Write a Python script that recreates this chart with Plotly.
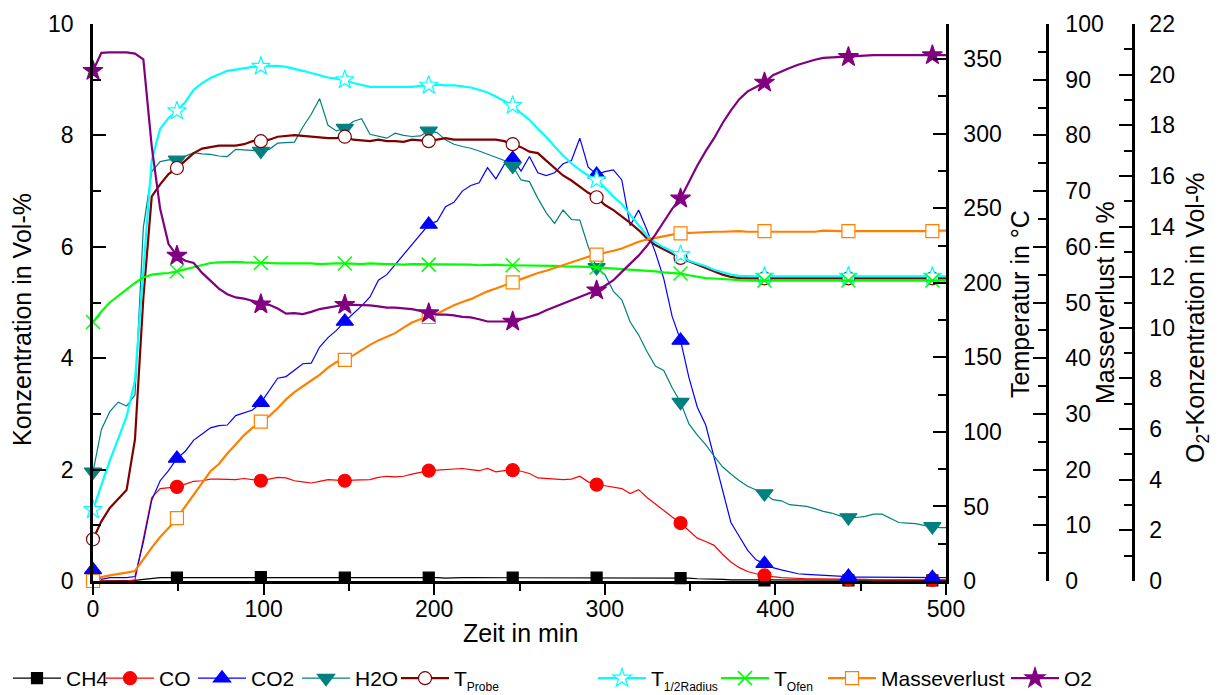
import plotly.graph_objects as go

# ---------------- data ----------------
zeit = [0, 4.92, 9.84, 14.76, 19.68, 24.6, 29.52, 34.44, 39.36, 44.28,
        49.2, 54.12, 59.04, 63.96, 68.88, 73.8, 78.72, 83.64, 88.56, 93.48,
        98.4, 103.32, 108.24, 113.16, 118.08, 123.0, 127.92, 132.84, 137.76, 142.68,
        147.6, 152.52, 157.44, 162.36, 167.28, 172.2, 177.12, 182.04, 186.96, 191.88,
        196.8, 201.72, 206.64, 211.56, 216.48, 221.4, 226.32, 231.24, 236.16, 241.08,
        246.0, 250.92, 255.84, 260.76, 265.68, 270.6, 275.52, 280.44, 285.36, 290.28,
        295.2, 300.12, 305.04, 309.96, 314.88, 319.8, 324.72, 329.64, 334.56, 339.48,
        344.4, 349.32, 354.24, 359.16, 364.08, 369.0, 373.92, 378.84, 383.76, 388.68,
        393.6, 398.52, 403.44, 408.36, 413.28, 418.2, 423.12, 428.04, 432.96, 437.88,
        442.8, 447.72, 452.64, 457.56, 462.48, 467.4, 472.32, 477.24, 482.16, 487.08,
        492.0, 496.92, 501.84]

ch4 = [0.0, 0.0, 0.0, 0.0, 0.0, 0.01, 0.03, 0.05, 0.06, 0.06,
       0.06, 0.06, 0.06, 0.06, 0.06, 0.06, 0.06, 0.06, 0.06, 0.07,
       0.07, 0.06, 0.06, 0.06, 0.06, 0.06, 0.06, 0.07, 0.06, 0.06,
       0.06, 0.06, 0.06, 0.06, 0.06, 0.06, 0.06, 0.06, 0.06, 0.06,
       0.06, 0.06, 0.05, 0.06, 0.06, 0.06, 0.06, 0.06, 0.06, 0.06,
       0.06, 0.06, 0.06, 0.05, 0.06, 0.06, 0.06, 0.06, 0.06, 0.06,
       0.06, 0.06, 0.06, 0.06, 0.06, 0.05, 0.05, 0.06, 0.06, 0.05,
       0.05, 0.05, 0.04, 0.04, 0.03, 0.03, 0.02, 0.02, 0.02, 0.01,
       0.01, 0.01, 0.01, 0.01, 0.01, 0.01, 0.01, 0.01, 0.01, 0.01,
       0.01, 0.01, 0.01, 0.01, 0.01, 0.01, 0.01, 0.01, 0.01, 0.01,
       0.01, 0.01, 0.01]

co = [0.0, 0.0, 0.0, 0.0, 0.0, 0.02, 0.75, 1.5, 1.66, 1.68,
      1.69, 1.74, 1.79, 1.8, 1.83, 1.83, 1.82, 1.82, 1.84, 1.82,
      1.8, 1.83, 1.86, 1.85, 1.8, 1.78, 1.76, 1.79, 1.82, 1.81,
      1.8, 1.81, 1.82, 1.82, 1.86, 1.88, 1.87, 1.88, 1.92, 1.95,
      1.98, 1.99, 2.0, 2.01, 2.02, 2.0, 1.98, 2.02, 1.96, 1.98,
      1.99, 1.97, 1.93, 1.85, 1.84, 1.82, 1.82, 1.83, 1.88, 1.78,
      1.73, 1.71, 1.69, 1.66, 1.57, 1.64, 1.5, 1.38, 1.27, 1.15,
      1.04, 0.9, 0.77, 0.71, 0.64, 0.48, 0.34, 0.24, 0.17, 0.13,
      0.1, 0.08, 0.06, 0.05, 0.05, 0.04, 0.04, 0.04, 0.03, 0.03,
      0.03, 0.03, 0.03, 0.02, 0.02, 0.02, 0.02, 0.02, 0.02, 0.02,
      0.02, 0.02, 0.02]

co2 = [0.2, 0.03, 0.06, 0.06, 0.06, 0.08, 0.7, 1.45, 1.8, 1.98,
       2.2, 2.33, 2.53, 2.64, 2.75, 2.79, 2.8, 2.97, 3.02, 3.07,
       3.2, 3.42, 3.64, 3.67, 3.79, 3.9, 3.91, 4.2, 4.37, 4.5,
       4.66, 4.8, 4.94, 5.1, 5.4, 5.5, 5.68, 5.85, 6.02, 6.22,
       6.4, 6.46, 6.72, 6.8, 7.0, 7.1, 7.15, 7.42, 7.22, 7.48,
       7.58, 7.36, 7.62, 7.33, 7.28, 7.33, 7.49, 7.55, 7.95, 7.43,
       7.3, 7.35, 7.38, 7.2, 6.38, 6.66, 6.3, 5.9, 5.43, 4.75,
       4.32, 3.65, 3.12, 2.8, 2.2, 1.6, 1.05, 0.8, 0.55, 0.38,
       0.31, 0.24, 0.2, 0.16, 0.13, 0.12, 0.11, 0.1, 0.09, 0.08,
       0.08, 0.07, 0.07, 0.07, 0.06, 0.06, 0.06, 0.06, 0.06, 0.06,
       0.06, 0.06, 0.06]

h2o = [1.96, 2.72, 3.04, 3.21, 3.14, 3.34, 6.35, 7.35, 7.53, 7.56,
       7.56, 7.62, 7.69, 7.67, 7.66, 7.63, 7.62, 7.75, 7.74, 7.74,
       7.72, 7.75, 7.86, 7.87, 7.88, 8.15, 8.38, 8.66, 8.18, 8.08,
       8.13, 8.25, 8.3, 8.02, 7.98, 7.95, 8.04, 8.0, 7.98, 7.99,
       8.08, 8.05, 7.92, 7.84, 7.8, 7.77, 7.72, 7.66, 7.6, 7.55,
       7.45, 7.2, 7.17, 6.87, 6.61, 6.42, 6.66, 6.49, 6.48, 6.0,
       5.63, 5.5, 5.2, 5.05, 4.65, 4.42, 4.12, 3.86, 3.78, 3.47,
       3.21, 2.82, 2.62, 2.45, 2.24, 2.05, 1.92, 1.8, 1.7, 1.64,
       1.57, 1.46, 1.44, 1.37, 1.35, 1.34, 1.3, 1.25, 1.22, 1.17,
       1.14, 1.14, 1.16, 1.2, 1.2, 1.12, 1.05, 1.04, 1.03, 1.0,
       0.98, 0.96, 0.96]

t_probe = [28, 40, 49, 55, 61, 95, 190, 258, 266, 273,
           277, 282, 287, 290, 291, 292, 292, 292, 293, 295,
           295, 296, 298, 298.5, 299, 298.5, 298, 297, 297, 297,
           298, 296, 295.5, 295, 296, 295, 295, 294.5, 296, 295.5,
           295, 296, 297, 296, 296, 296, 296, 296, 296, 295,
           293, 291, 288, 287, 282, 277, 272, 268.6, 264.5, 260.4,
           257.4, 252.2, 248.8, 244.7, 240.2, 235.4, 229.8, 225.3, 222.3, 219.3,
           216.7, 214.4, 212.2, 210, 207.7, 205.5, 204, 203.2, 203, 203,
           203, 203.2, 203, 203, 203, 203.2, 203, 203, 203, 203,
           203, 203, 203, 203.2, 203, 203, 203, 203, 203, 203,
           203, 203, 203]

t_radius = [47.8, 64.6, 80.7, 95.3, 110.2, 134.5, 208, 282.4, 303.4, 310.5,
            315.3, 321.3, 329.5, 334, 337.4, 340, 342.2, 343, 344.1, 344.8,
            345.2, 345.6, 345.6, 344.8, 343.7, 342.2, 340.7, 339.2, 337.7, 337,
            336.2, 334, 332.5, 331.4, 331.4, 331.4, 331.8, 331.8, 331.4, 332.1,
            332.5, 332.9, 332.5, 332.5, 331.8, 331, 329.5, 327.6, 325, 322,
            319, 313.8, 309.3, 303.4, 297.8, 291.4, 285.4, 280.2, 275.7, 272,
            269, 263.8, 257.8, 252.9, 245.8, 239.1, 231.6, 227.1, 223.8, 221.2,
            218.9, 214.8, 213, 211.1, 208.8, 207, 205.5, 204.7, 204.4, 204.4,
            204.4, 204.4, 204.4, 204.4, 204.4, 204.4, 204.4, 204.4, 204.4, 204.4,
            204.4, 204.4, 204.4, 204.4, 204.4, 204.4, 204.4, 204.4, 204.4, 204.4,
            204.4, 204.4, 204.4]

t_ofen = [173.7, 180.8, 186.8, 191.3, 195.8, 199.9, 203.6, 205.5, 206.2, 206.6,
          207.7, 209.2, 210.3, 211.8, 213.3, 213.7, 214.1, 214.1, 213.7, 213.7,
          213.3, 213.3, 213, 213, 213.3, 213, 213, 212.6, 213, 213,
          213, 212.6, 212.6, 213, 212.6, 212.6, 212.6, 212.2, 212.6, 212.6,
          212.2, 212.2, 212.2, 212.2, 212.2, 212.2, 211.8, 212.2, 212.2, 211.8,
          211.8, 211.8, 211.4, 211.4, 211.4, 211.4, 211, 211, 211, 210.7,
          210.3, 210, 209.6, 209.2, 209, 208.8, 208.5, 207.7, 207, 206.6,
          206.2, 205.1, 204, 203.2, 202.9, 202.5, 202.1, 201.7, 201.5, 201.5,
          201.5, 201.5, 201.5, 201.5, 201.5, 201.5, 201.5, 201.5, 201.5, 201.5,
          201.5, 201.5, 201.5, 201.5, 201.5, 201.5, 201.5, 201.5, 201.5, 201.5,
          201.5, 201.5, 201.5]

masseverlust = [0.0, 0.7, 1.0, 1.2, 1.5, 1.8, 4.0, 6.0, 7.9, 9.5,
                11.3, 13.4, 15.6, 17.8, 19.7, 21.0, 22.9, 24.5, 26.2, 27.5,
                28.6, 29.6, 31.0, 32.6, 33.9, 35.0, 36.0, 37.0, 38.3, 39.3,
                39.7, 40.5, 41.5, 42.4, 43.2, 43.9, 44.5, 45.5, 46.4, 47.0,
                47.4, 48.0, 48.8, 49.5, 50.1, 50.6, 51.3, 52.0, 52.5, 53.0,
                53.6, 54.2, 54.8, 55.3, 55.7, 56.2, 56.7, 57.3, 57.8, 58.2,
                58.6, 58.9, 59.3, 59.7, 60.3, 60.9, 61.3, 61.6, 62.0, 62.2,
                62.4, 62.5, 62.6, 62.7, 62.7, 62.7, 62.8, 62.8, 62.7, 62.7,
                62.8, 62.8, 62.8, 62.8, 62.8, 62.8, 62.7, 62.9, 62.8, 62.8,
                62.8, 62.8, 62.7, 62.7, 62.8, 62.8, 62.8, 62.8, 62.8, 62.8,
                62.8, 62.9, 62.9]

o2 = [20.15, 20.86, 20.88, 20.88, 20.88, 20.83, 20.6, 17.16, 14.7, 13.31,
      12.85, 12.65, 12.56, 12.17, 11.84, 11.55, 11.33, 11.2, 11.15, 11.07,
      10.93, 10.91, 10.76, 10.56, 10.58, 10.54, 10.63, 10.74, 10.8, 10.87,
      10.91, 10.91, 10.91, 10.89, 10.85, 10.8, 10.8, 10.78, 10.74, 10.67,
      10.58, 10.52, 10.52, 10.49, 10.43, 10.41, 10.34, 10.25, 10.25, 10.25,
      10.25, 10.34, 10.43, 10.54, 10.69, 10.82, 10.98, 11.11, 11.22, 11.37,
      11.48, 11.66, 11.88, 12.21, 12.52, 12.85, 13.24, 13.68, 14.19, 14.7,
      15.11, 15.77, 16.41, 16.98, 17.49, 18.08, 18.59, 19.03, 19.34, 19.51,
      19.69, 19.98, 20.13, 20.26, 20.39, 20.5, 20.59, 20.66, 20.68, 20.7,
      20.7, 20.75, 20.77, 20.77, 20.77, 20.77, 20.77, 20.79, 20.79, 20.79,
      20.77, 20.77, 20.77]

# ---------------- figure ----------------
FONT = "Liberation Sans, Arial, sans-serif"
MARK_STEP = 10
SUB = '<sub><span style="font-size:12px">{}</span></sub>'

series = [
    # name, y, axis, line colour, width, symbol, size, fill, outline
    ("CH4", ch4, "y", "#000000", 1.2, "square", 11, "#000000", "#000000"),
    ("CO", co, "y", "#ff0000", 1.2, "circle", 13, "#ff0000", "#ff0000"),
    ("CO2", co2, "y", "#0000ff", 1.2, "triangle-up", 15, "#0000ff", "#0000ff"),
    ("H2O", h2o, "y", "#008080", 1.2, "triangle-down", 15, "#008080", "#008080"),
    ("T" + SUB.format("Probe"), t_probe, "y2", "#800000", 2.2, "circle", 13, "#ffffff", "#800000"),
    ("T" + SUB.format("1/2Radius"), t_radius, "y2", "#00ffff", 2.2, "star", 14, "#ffffff", "#00ffff"),
    ("T" + SUB.format("Ofen"), t_ofen, "y2", "#00ff00", 2.2, "x-thin", 14, "#00ff00", "#00ff00"),
    ("Masseverlust", masseverlust, "y3", "#ff8000", 2.2, "square", 13, "#ffffff", "#ff8000"),
    ("O2", o2, "y4", "#800080", 2.2, "star", 15, "#800080", "#800080"),
]

# pixel position (in the page) where each legend entry's line sample starts
legend_left_px = [8, 110, 202, 306, 405, 602, 725, 832, 1015]

OFF = 8                      # default page margin of the html body
W, H = 1222 - OFF, 695 - OFF
L, R, T = 93 - OFF, 89, 24 - OFF
B = H - (581 - OFF)
pw = W - L - R
ph = H - T - B
x_end = (946 - OFF - L) / pw


def px_x(p):
    return (p - OFF - L) / pw


def px_y(p):
    return (H - B - (p - OFF)) / ph


fig = go.Figure()

for name, ys, ax, col, lw, sym, sz, fill, outl in series:
    mline = dict(color=outl, width=1.5 if sym == "x-thin" else 1.2)
    fig.add_trace(go.Scatter(x=zeit, y=ys, yaxis=ax, mode="lines",
                             line=dict(color=col, width=lw), showlegend=False,
                             hoverinfo="skip"))
    fig.add_trace(go.Scatter(x=zeit[::MARK_STEP], y=ys[::MARK_STEP], yaxis=ax,
                             mode="markers", cliponaxis=False, showlegend=False,
                             marker=dict(symbol=sym, size=sz, color=fill, line=mline)))

legend_layouts = {}
for k, (name, ys, ax, col, lw, sym, sz, fill, outl) in enumerate(series):
    lid = "legend" if k == 0 else f"legend{k + 1}"
    mline = dict(color=outl, width=1.5 if sym == "x-thin" else 1.2)
    fig.add_trace(go.Scatter(x=[None], y=[None], yaxis=ax, mode="lines+markers",
                             name=name, legend=lid, line=dict(color=col, width=lw),
                             marker=dict(symbol=sym, size=sz, color=fill, line=mline)))
    legend_layouts[lid] = dict(
        xref="container", yref="container",
        x=(legend_left_px[k] - OFF - 9) / W, y=1 - (658 - OFF) / H,
        xanchor="left", yanchor="top", orientation="h", itemwidth=48,
        font=dict(family=FONT, size=21, color="black"),
        bgcolor="rgba(0,0,0,0)", borderwidth=0)

axis_common = dict(showgrid=False, zeroline=False, showline=True, linecolor="black",
                   linewidth=2.5, tickcolor="black", tickwidth=2, automargin=False,
                   tickfont=dict(family=FONT, size=23, color="black"))

fig.update_layout(
    width=W, height=H,
    margin=dict(l=L, r=R, t=T, b=B, pad=0, autoexpand=False),
    plot_bgcolor="white", paper_bgcolor="white",
    font=dict(family=FONT, color="black"),
    xaxis=dict(domain=[0, x_end], range=[0, 500], dtick=100, tick0=0,
               ticks="outside", ticklen=11, ticklabelstandoff=-5,
               minor=dict(dtick=50, ticks="outside", ticklen=7, tickwidth=2, tickcolor="black"),
               anchor="y", **axis_common),
    xaxis2=dict(domain=[0, x_end], range=[0, 500], dtick=100, tick0=0, overlaying="x",
                anchor="y", side="bottom", ticks="inside", ticklen=11, showticklabels=False,
                minor=dict(dtick=50, ticks="inside", ticklen=7, tickwidth=2, tickcolor="black"),
                showgrid=False, zeroline=False, showline=False, tickcolor="black",
                tickwidth=2, automargin=False),
    yaxis=dict(range=[0, 10], dtick=2, tick0=0, ticks="inside", ticklen=13,
               minor=dict(dtick=1, ticks="inside", ticklen=8, tickwidth=2, tickcolor="black"),
               ticklabelstandoff=12, anchor="x", **axis_common),
    yaxis2=dict(range=[0, 373.6], dtick=50, tick0=0, ticks="inside", ticklen=13,
                minor=dict(dtick=25, ticks="inside", ticklen=8, tickwidth=2, tickcolor="black"),
                overlaying="y", side="right", anchor="x", ticklabelstandoff=10, **axis_common),
    yaxis3=dict(range=[0, 100], dtick=10, tick0=0, ticks="inside", ticklen=13,
                minor=dict(dtick=5, ticks="inside", ticklen=8, tickwidth=2, tickcolor="black"),
                overlaying="y", side="right", anchor="free", position=px_x(1047),
                ticklabelstandoff=12, **axis_common),
    yaxis4=dict(range=[0, 22], dtick=2, tick0=0, ticks="inside", ticklen=13,
                minor=dict(dtick=1, ticks="inside", ticklen=8, tickwidth=2, tickcolor="black"),
                overlaying="y", side="right", anchor="free", position=px_x(1133),
                ticklabelstandoff=10, **axis_common),
    **legend_layouts,
)

title_font = dict(family=FONT, size=25, color="black")
annots = [
    dict(text="Zeit in min", x=px_x(520), y=px_y(633), textangle=0),
    dict(text="Konzentration in Vol-%", x=px_x(22), y=px_y(320), textangle=-90),
    dict(text="Temperatur in °C", x=px_x(1020), y=px_y(304), textangle=-90),
    dict(text="Masseverlust in %", x=px_x(1105), y=px_y(303), textangle=-90),
    dict(text="O<sub>2</sub>-Konzentration in Vol-%", x=px_x(1197), y=px_y(318), textangle=-90),
]
for a in annots:
    fig.add_annotation(xref="paper", yref="paper", showarrow=False,
                       xanchor="center", yanchor="middle", font=title_font, **a)

fig.write_html("out.html")
